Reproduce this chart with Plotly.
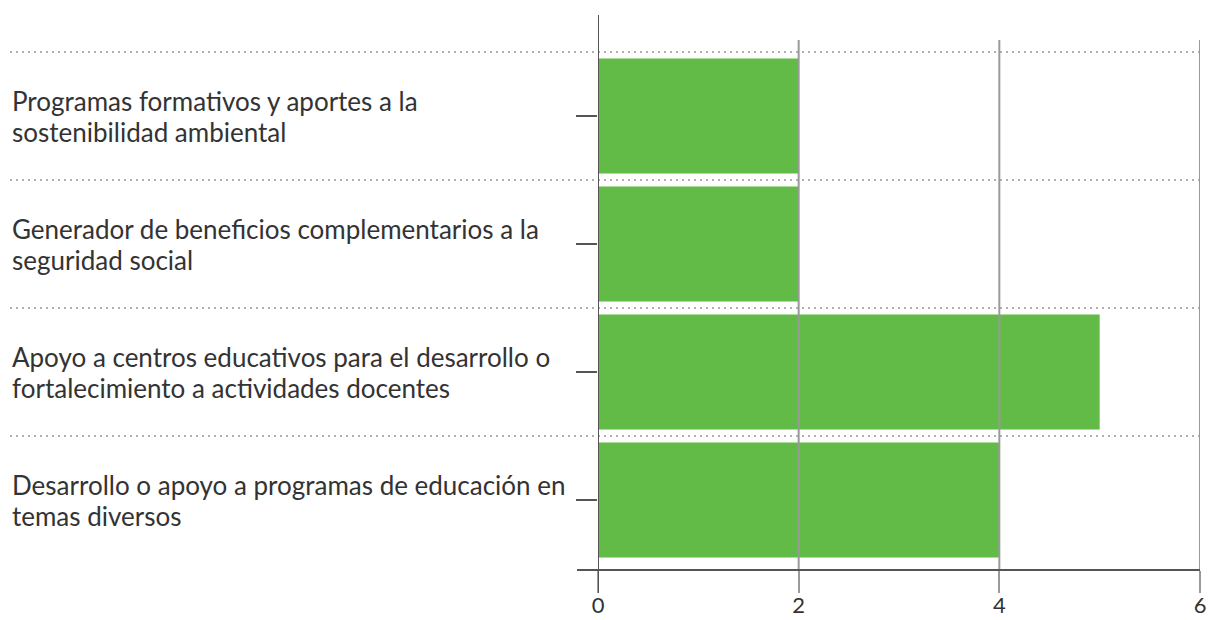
import plotly.graph_objects as go

# Categories (top to bottom) and their counts
categories = [
    "Programas formativos y aportes a la<br>sostenibilidad ambiental",
    "Generador de beneficios complementarios a la<br>seguridad social",
    "Apoyo a centros educativos para el desarrollo o<br>fortalecimiento a actividades docentes",
    "Desarrollo o apoyo a programas de educación en<br>temas diversos",
]
values = [2, 2, 5, 4]
x_ticks = [0, 2, 4, 6]

W, H = 1208, 620
ML, MR, MT, MB = 598, 8, 40, 50
PW, PH = W - ML - MR, H - MT - MB

FONT = "Lato"
TEXT = "#333333"
GREEN = "#62BA47"
AXIS = "#555555"
GRID = "#9a9a9a"
DOTS = "#b0b0b0"
LABEL_SIZE = 26
LINE_STEP = 31

fig = go.Figure(
    go.Bar(
        x=values,
        y=categories,
        orientation="h",
        width=0.9,
        marker=dict(color=GREEN, line=dict(width=0)),
        hoverinfo="x+y",
    )
)

shapes = []
# dotted separators between category bands
for i in range(len(categories)):
    shapes.append(dict(
        type="line", xref="paper", yref="y",
        x0=(10 - ML) / PW, x1=1, y0=i - 0.5, y1=i - 0.5,
        line=dict(color=DOTS, width=2, dash="2px,4px"), layer="below",
    ))
# vertical gridlines drawn over the bars
for v in x_ticks[1:]:
    shapes.append(dict(
        type="line", xref="x", yref="paper", x0=v, x1=v, y0=0, y1=1,
        line=dict(color=GRID, width=2), layer="above",
    ))
# value axis baseline, extended to the left
shapes.append(dict(
    type="line", xref="paper", yref="paper", x0=-21 / PW, x1=1, y0=0, y1=0,
    line=dict(color=AXIS, width=2), layer="above",
))
# category axis line, extended above the plot
shapes.append(dict(
    type="line", xref="x", yref="paper", x0=0, x1=0,
    y0=-23 / PH, y1=(PH + 25) / PH,
    line=dict(color=AXIS, width=2), layer="above",
))

# left-aligned category labels, one annotation per text line
annotations = []
for c in categories:
    lines = c.split("<br>")
    k = len(lines)
    for j, line in enumerate(lines):
        annotations.append(dict(
            text=line, xref="paper", yref="y", x=(10 - ML) / PW, y=c,
            xanchor="left", yanchor="middle", align="left", showarrow=False,
            yshift=((k - 1) / 2 - j) * LINE_STEP,
            font=dict(family=FONT, size=LABEL_SIZE, color=TEXT),
        ))

fig.update_layout(
    width=W, height=H,
    margin=dict(l=ML, r=MR, t=MT, b=MB, pad=0, autoexpand=False),
    paper_bgcolor="white", plot_bgcolor="white",
    showlegend=False,
    shapes=shapes,
    annotations=annotations,
    font=dict(family=FONT, size=22, color=TEXT),
    xaxis=dict(
        range=[0, 6], tickvals=x_ticks, ticktext=[str(t) for t in x_ticks],
        ticks="outside", ticklen=22, tickwidth=2, tickcolor=GRID,
        ticklabelstandoff=-6,
        showgrid=False, zeroline=False, showline=False, automargin=False,
        tickfont=dict(family=FONT, size=22, color=TEXT),
    ),
    yaxis=dict(
        type="category", categoryorder="array", categoryarray=categories,
        range=[(PH + MT - 116) / 128, (MT - 116) / 128],
        ticks="outside", ticklen=21, tickwidth=2, tickcolor=AXIS,
        showticklabels=False, showgrid=False, zeroline=False, showline=False,
        automargin=False,
    ),
)

fig.write_html("out.html")
